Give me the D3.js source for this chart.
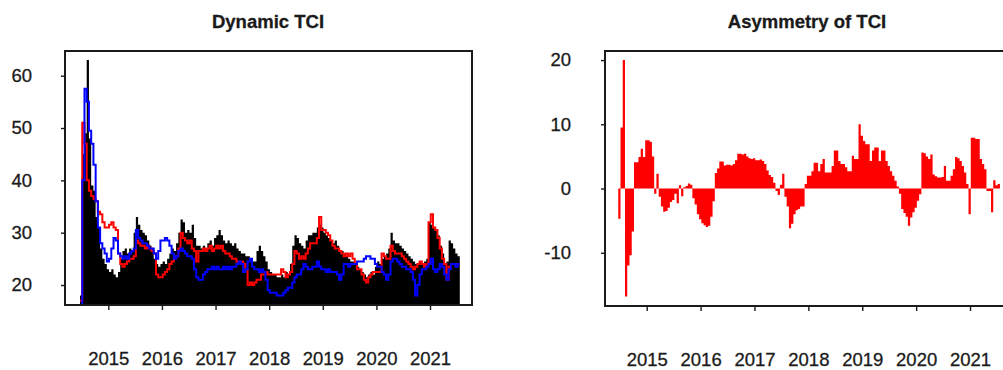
<!DOCTYPE html>
<html>
<head>
<meta charset="utf-8">
<script src="https://cdn.jsdelivr.net/npm/d3@7"></script>
<style>
  body { margin: 0; background: #fff; }
  svg { display: block; }
  text { font-family: "Liberation Sans", Arial, sans-serif; fill: #1a1a1a; stroke: #1a1a1a; stroke-width: 0.3px; }
</style>
</head>
<body>
<svg id="chart" width="1003" height="370"></svg>
<script>
// sampling: twice a month, starting mid 2014
const startYear = 2014.472
const stepYear = 1 / 24

const yearTicks = [2015, 2016, 2017, 2018, 2019, 2020, 2021]
const tciTicks = [20, 30, 40, 50, 60]
const asymTicks = [-10, 0, 10, 20]

// total TCI (black)
const tciTotal = [18, 45, 49, 63, 48, 39, 38, 33, 31, 27,
  25, 24, 23, 22.5, 23, 22, 21.5, 22.5, 25, 26.5,
  27, 26, 27, 26.5, 30, 33, 31.5, 30.5, 30, 29.5,
  28.5, 27.5, 27, 25, 24, 23.5, 24, 24.5, 24, 25,
  26, 27, 26.5, 28, 30, 32.5, 32, 30, 30.5, 30,
  31.5, 29, 27.5, 27.5, 27, 27.5, 27, 28, 28.5, 27.5,
  29, 29.5, 30.5, 29.5, 28.5, 28, 28.5, 28, 27.5, 28,
  27, 26.5, 26, 26, 25.5, 25.5, 25, 24.5, 24.5, 26.5,
  27.5, 26.5, 25.5, 24.5, 23, 22.5, 22, 22, 21.5, 21.5,
  22, 21.5, 22.5, 22, 24, 27.5, 29.5, 29, 28, 27.5,
  27, 28.5, 29.5, 29.5, 30, 30, 31, 31.5, 31, 30,
  29.5, 29, 28.5, 28, 28.5, 27.5, 26.5, 26.5, 26, 25.5,
  25, 24.5, 24.5, 24, 23.5, 23, 22.5, 22, 21.5, 22,
  22.5, 22, 23.5, 24.5, 24, 25, 25.5, 26, 27, 30,
  28.5, 28, 28, 27.5, 27, 26.5, 26, 25.5, 25, 24.5,
  24, 24, 24.5, 24, 24.5, 25, 32, 31.5, 31, 30.5,
  29.5, 27.5, 26, 24, 24.5, 28.5, 28, 27, 26, 25.5]

// red series
const tciRed = [17, 51, 47, 40, 38, 37, 36.5, 36, 34, 33.5,
  32, 31, 31, 31.5, 32, 31, 30.5, 26, 24, 23.5,
  24, 24.5, 25, 25, 25.5, 28.5, 28, 27.5, 27.5, 27,
  27.5, 27, 26.5, 26, 22, 21.5, 21.5, 22, 22.5, 23,
  24, 24.5, 25, 25.5, 27, 30, 29, 28.5, 28, 28.5,
  27, 26.5, 24.5, 26.5, 26.5, 27, 26.5, 27, 27.5, 26.5,
  27, 27.5, 27, 27.5, 26.5, 26, 26, 25.5, 25, 25,
  24.5, 24.5, 24.5, 24, 23, 20, 20.5, 20, 20.5, 21,
  21, 22, 22, 22.5, 22, 22, 22, 22, 22, 22,
  23, 22.5, 21.5, 22, 22.5, 24, 26.5, 26, 25, 25.5,
  25, 26, 27, 28, 28, 28, 29, 33, 30.5, 30.5,
  30, 29.5, 28.5, 27.5, 27, 27, 26.5, 26, 25.5, 26,
  25.5, 26, 25, 24, 23, 23, 22, 21, 20.5, 21.5,
  22, 22.5, 22.5, 22.5, 22.5, 26, 25.5, 25, 25, 27.5,
  26.5, 26, 26, 26, 25.5, 25, 24.5, 24, 23.5, 23,
  23.5, 24, 24.5, 24, 23.5, 24, 32, 33.5, 31, 30.5,
  29, 27, 25, 24, 21, 23.5, 24, 24, 24, 24]

// blue series
const tciBlue = [16, 40, 57.5, 55, 49.5, 47, 43, 36, 31, 28,
  27, 26, 24.5, 25, 27, 29, 28.5, 26, 25.5, 25,
  25.5, 25, 26, 26.5, 27, 30.5, 29, 28.5, 28, 28,
  27.5, 27, 27, 26, 25, 26.5, 28.5, 28.5, 29, 28.5,
  27.5, 26, 25, 25.5, 26.5, 27, 26.5, 26, 25.5, 25.5,
  25, 23, 21.5, 21, 21, 22, 22.5, 23, 23, 23.5,
  23, 23.5, 23, 23, 23.5, 23, 23.5, 23, 23.5, 23.5,
  24, 24.5, 24, 22.5, 23, 24.5, 25, 23.5, 23, 23,
  22.5, 23, 22.5, 21, 19, 18.5, 18.5, 18.5, 18, 18,
  18, 18.5, 19, 19.5, 19.5, 20.5, 21.5, 22, 22, 23,
  24, 23.5, 23, 23, 23.5, 23.5, 24.5, 23.5, 23, 23,
  22.5, 23, 22.5, 22.5, 22.5, 22, 21, 22, 24, 24,
  23.5, 24, 24, 24, 24.5, 24.5, 24.5, 25, 25.5, 25.5,
  25, 25, 24, 23.5, 23.5, 22.5, 22, 21, 22, 24.5,
  25, 25, 24.5, 24, 23.5, 23.5, 23, 23, 22.5, 21,
  18, 20, 22, 23, 23, 23.5, 24, 25, 23, 22.5,
  23, 24, 23.5, 22, 21, 23, 24, 24, 23.5, 24]

// asymmetry of TCI
const tciAsym = [-4.7, 9.5, 20, -16.8, -12, -10.4, -6.7, 4.1, 4.1, 4.9,
  6.2, 4.9, 7.5, 7.5, 7.3, 5, -0.8, 2.3, -1.3, -2.8,
  -3.6, -3.5, -3, -2.1, -1.8, -0.8, -2.3, 0.5, -1.2, 0.2,
  0.4, 0.8, 0.6, -1.5, -2.5, -4, -4.8, -5.4, -5.7, -6,
  -5.8, -4.4, -2, 2.4, 3.1, 4.2, 4.2, 3.6, 3.7, 3.7,
  3.6, 3.8, 4.4, 5.4, 5.4, 5.3, 5.4, 5, 4.7, 4.6,
  4.7, 4.4, 4.4, 4.5, 4.3, 3.8, 2.8, 2.1, 1.8, 0.9,
  -0.4, -1, 0.6, 2.3, -1.3, -2.8, -6.2, -5.5, -4, -3.4,
  -3.2, -2.8, -2.8, 0.7, 2, 2, 2.7, 4, 4, 2.7,
  3.8, 4.6, 2.5, 2.5, 2.5, 3.5, 5.9, 5.9, 4.3, 3.8,
  3.8, 3.3, 2.7, 2.7, 5.1, 4.6, 4.6, 10, 8.2, 7.4,
  6.9, 6.9, 4.3, 5.9, 6.4, 6.4, 4.3, 5.9, 5.9, 4.3,
  3.5, 2.7, 2, 1.2, 0.3, -0.8, -3.2, -3.8, -4.4, -5.8,
  -4.5, -3.7, -3, -1.9, -0.9, 5.6, 5.5, 5, 4.6, 5.3,
  2.2, 1.9, 1.7, 1.7, 1.8, 3.5, 1.2, 1.2, 2, 3,
  4.9, 4.7, 4.3, 3.5, 2.5, 0.7, -4, 7.9, 7.9, 7.7,
  7.7, 4.6, 3.8, 3, -0.4, -0.4, -3.7, 1.3, 0.5, 0.7]

const svg = d3.select('#chart')

// sets up box, scales, axes and title of one panel
function panel (id, box, xDomain, yDomain, yTicks, yPad, title, titleX) {
  const x = d3.scaleLinear().domain(xDomain).range([box.left, box.right])
  const y = d3.scaleLinear().domain(yDomain).range([box.bottom, box.top])

  svg.append('clipPath').attr('id', id)
    .append('rect')
    .attr('x', box.left).attr('y', box.top)
    .attr('width', box.right - box.left).attr('height', box.bottom - box.top)

  const g = svg.append('g')
  const plot = g.append('g').attr('clip-path', `url(#${id})`)

  const xAxis = g.append('g')
    .attr('transform', `translate(0,${box.bottom})`)
    .call(d3.axisBottom(x).tickValues(yearTicks).tickFormat(d => String(d)).tickSize(5).tickPadding(42))
  const yAxis = g.append('g')
    .attr('transform', `translate(${box.left},0)`)
    .call(d3.axisLeft(y).tickValues(yTicks).tickFormat(d => String(d)).tickSize(4).tickPadding(yPad))
  for (const ax of [xAxis, yAxis]) {
    ax.select('.domain').remove()
    ax.selectAll('line').attr('stroke', '#1a1a1a').attr('stroke-width', 1.4)
    ax.selectAll('text').style('font-size', '18.5px').attr('fill', '#1a1a1a')
  }

  g.append('text')
    .attr('x', titleX).attr('y', 28)
    .attr('text-anchor', 'middle')
    .style('font-size', '18.5px').style('font-weight', 'bold')
    .text(title)

  return { x, y, plot, g, box }
}

// step shapes: each value holds until the next sample
const stepX = (sc) => (d, i) => sc.x(startYear + i * stepYear)
const withEnd = (arr) => arr.concat([arr[arr.length - 1]])

// ---- Dynamic TCI ----
const left = panel('clipL', { left: 65, right: 472, top: 51, bottom: 305 },
  [2014.192, 2021.783], [16.18, 64.72], tciTicks, 29, 'Dynamic TCI', 268)

left.plot.append('path')
  .datum(withEnd(tciTotal))
  .attr('d', d3.area()
    .x(stepX(left))
    .y0(left.box.bottom)
    .y1(d => left.y(d))
    .curve(d3.curveStepAfter))
  .attr('fill', '#000')

const stepLine = (sc) => d3.line()
  .x(stepX(sc))
  .y(d => sc.y(d))
  .curve(d3.curveStepAfter)

left.plot.append('path')
  .datum(withEnd(tciRed))
  .attr('d', stepLine(left))
  .attr('fill', 'none').attr('stroke', '#ff0000').attr('stroke-width', 2)

left.plot.append('path')
  .datum(withEnd(tciBlue))
  .attr('d', stepLine(left))
  .attr('fill', 'none').attr('stroke', '#0000ff').attr('stroke-width', 2)

left.g.append('rect')
  .attr('x', 65).attr('y', 51).attr('width', 407).attr('height', 254)
  .attr('fill', 'none').attr('stroke', '#1a1a1a').attr('stroke-width', 2)

// ---- Asymmetry of TCI ----
const right = panel('clipR', { left: 605, right: 1012.6, top: 51, bottom: 306 },
  [2014.226, 2021.79], [-18.29, 21.41], asymTicks, 30, 'Asymmetry of TCI', 807)

right.plot.append('path')
  .datum(withEnd(tciAsym))
  .attr('d', d3.area()
    .x(stepX(right))
    .y0(right.y(0))
    .y1(d => right.y(d))
    .curve(d3.curveStepAfter))
  .attr('fill', '#ff0000')

right.g.append('rect')
  .attr('x', 605).attr('y', 51).attr('width', 407.6).attr('height', 255)
  .attr('fill', 'none').attr('stroke', '#1a1a1a').attr('stroke-width', 2)
</script>
</body>
</html>
